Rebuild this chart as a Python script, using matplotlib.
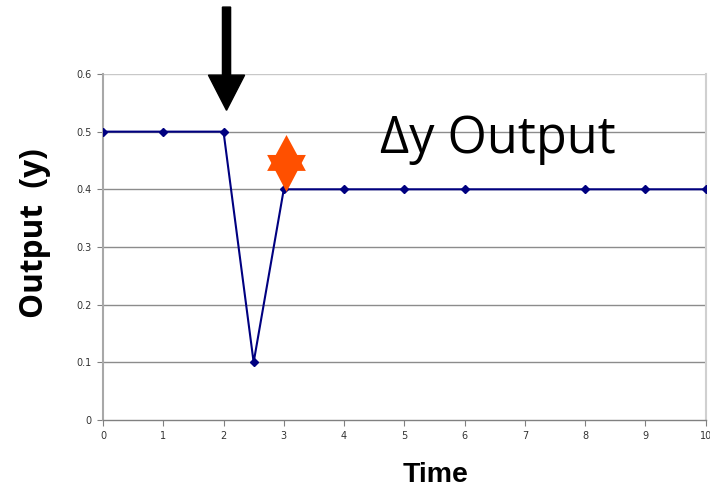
import matplotlib.pyplot as plt
import numpy as np
from matplotlib.path import Path

# step response data
time = [0, 1, 2, 2.5, 3, 4, 5, 6, 8, 9, 10]
output = [0.5, 0.5, 0.5, 0.1, 0.4, 0.4, 0.4, 0.4, 0.4, 0.4, 0.4]

y_ticks = [0, 0.1, 0.2, 0.3, 0.4, 0.5, 0.6]
x_ticks = list(range(0, 11))

fig = plt.figure(figsize=(7.1, 4.87), dpi=100)
ax = fig.add_axes([0.145, 0.1376, 0.849, 0.7105])

# gridlines
for yv in y_ticks[1:]:
    ax.axhline(yv, color='#c8c8c8' if yv == 0.6 else '#8c8c8c', lw=1, zorder=1)

ax.plot(time, output, color='#000080', lw=1.5, marker='D', markersize=4.5, zorder=3)

ax.set_xlim(0, 10)
ax.set_ylim(0, 0.6)
ax.set_xticks(x_ticks)
ax.set_yticks(y_ticks)
ax.set_yticklabels(['0', '0.1', '0.2', '0.3', '0.4', '0.5', '0.6'])
ax.tick_params(labelsize=7, colors='#333333', length=4, width=0.8, pad=4)
ax.tick_params(axis='both', color='#808080')
ax.spines['top'].set_visible(False)
ax.spines['right'].set_color('#d0d0d0')
ax.spines['right'].set_linewidth(1.5)
ax.spines['left'].set_color('#a8a8a8')
ax.spines['left'].set_linewidth(1.5)
ax.spines['bottom'].set_color('#808080')
ax.spines['bottom'].set_linewidth(1)

# arrow marking the disturbance
ax.add_patch(plt.matplotlib.patches.FancyArrow(2.05, 0.716, 0, -0.179, width=0.135, head_width=0.6,
                                               head_length=0.061, length_includes_head=True,
                                               color='black', clip_on=False, zorder=5))

# orange six-pointed star
up = Path([(0, 1), (-0.68, -0.26), (0.68, -0.26), (0, 1)],
          [Path.MOVETO, Path.LINETO, Path.LINETO, Path.CLOSEPOLY])
down = Path([(0, -1), (-0.68, 0.3), (0.68, 0.3), (0, -1)],
            [Path.MOVETO, Path.LINETO, Path.LINETO, Path.CLOSEPOLY])
for p in (up, down):
    ax.plot([3.03], [0.445], marker=p, markersize=41, color='#ff5000', markeredgewidth=0,
            linestyle='none', clip_on=False, zorder=4)

ax.text(4.6, 0.463, '\u0394y Output', fontsize=36.4, family=['Open Sans', 'DejaVu Sans'],
        va='baseline', ha='left', zorder=2)

fig.text(0.049, 0.5216, 'Output  (y)', rotation=90, fontsize=22.7, fontweight='bold',
         family=['Open Sans', 'DejaVu Sans'], ha='center', va='center')
fig.text(0.614, 0.0103, 'Time', fontsize=20.5, fontweight='bold',
         family=['Liberation Sans', 'DejaVu Sans'], ha='center', va='baseline')

fig.savefig('out.png', dpi=100)
